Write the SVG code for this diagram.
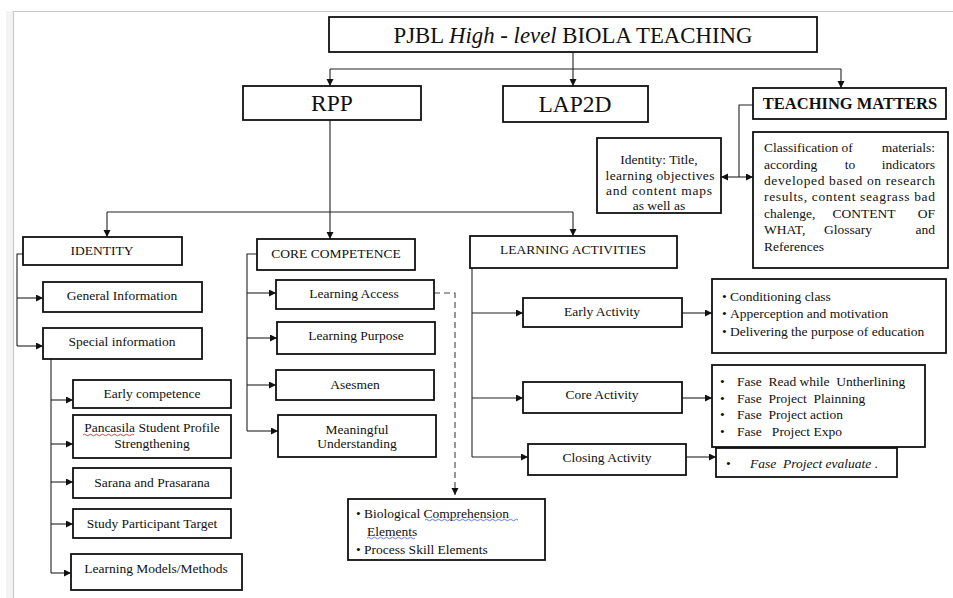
<svg xmlns="http://www.w3.org/2000/svg" width="953" height="598" viewBox="0 0 953 598">
<style>
  .box { fill: #fff; stroke: #111; stroke-width: 1.8; }
  .t { font-family: "Liberation Serif", "Times New Roman", serif; font-size: 13.5px; fill: #111; }
  .c { text-anchor: middle; }
  .e { text-anchor: end; }
  .big { font-size: 23.5px; }
  .ttl { font-size: 22.8px; }
  .bold { font-weight: bold; font-size: 16.5px; }
  .pre { white-space: pre; }
  .con path { fill: none; stroke: #222; stroke-width: 1.1; }
  .con path.arr { marker-end: url(#ah); }
  .con path.dash { stroke-dasharray: 6 4; stroke: #444; }
  .sq { fill: none; stroke-width: 0.9; }
</style>
<defs>
  <marker id="ah" markerUnits="userSpaceOnUse" markerWidth="8" markerHeight="8" refX="7" refY="3.5" orient="auto">
    <path d="M0,0 L7,3.5 L0,7 z" fill="#111"/>
  </marker>
</defs>
<rect x="0" y="0" width="953" height="598" fill="#fff"/>
<rect x="6" y="11" width="7" height="587" fill="#f4f4f4"/>
<path d="M13,11.5 H953 M13.5,11 V598" stroke="#c8c8c8" stroke-width="1.2" fill="none"/>

<g class="con" id="connectors">
  <path class="arr" d="M573,52 V86"/>
  <path d="M330,69 H841"/>
  <path class="arr" d="M330,69 V86"/>
  <path class="arr" d="M841,69 V88"/>
  <path d="M753,105 H739 V177"/>
  <path class="arr" d="M739,177 H721"/>
  <path class="arr" d="M739,177 H753"/>
  <path d="M330,120 V212"/>
  <path d="M107,212 H573"/>
  <path class="arr" d="M107,212 V237"/>
  <path class="arr" d="M330,212 V239"/>
  <path class="arr" d="M573,212 V236"/>
  <path d="M23,254 H17 V346"/>
  <path class="arr" d="M17,298 H43"/>
  <path class="arr" d="M17,346 H43"/>
  <path d="M51,359 V573"/>
  <path class="arr" d="M51,400 H73"/>
  <path class="arr" d="M51,444 H73"/>
  <path class="arr" d="M51,482 H73"/>
  <path class="arr" d="M51,524 H73"/>
  <path class="arr" d="M51,573 H71"/>
  <path d="M257,254 H247 V431"/>
  <path class="arr" d="M247,293 H276"/>
  <path class="arr" d="M247,338 H277"/>
  <path class="arr" d="M247,385 H276"/>
  <path class="arr" d="M247,431 H278"/>
  <path class="arr dash" d="M434,293 H455 V495"/>
  <path d="M472,268 V457"/>
  <path class="arr" d="M472,313 H523"/>
  <path class="arr" d="M472,398 H523"/>
  <path class="arr" d="M472,457 H528"/>
  <path class="arr" d="M682,313 H712"/>
  <path class="arr" d="M682,398 H712"/>
  <path class="arr" d="M686,457 H716"/>
</g>

<g id="title">
  <rect class="box" x="329" y="17" width="488" height="35"/>
  <text class="t ttl c" x="573" y="43">PJBL <tspan font-style="italic">High - level</tspan> BIOLA TEACHING</text>
</g>
<g id="rpp">
  <rect class="box" x="243" y="86" width="178" height="34"/>
  <text class="t big c" x="332" y="111">RPP</text>
</g>
<g id="lap2d">
  <rect class="box" x="503" y="86" width="145" height="36"/>
  <text class="t big c" x="575" y="112">LAP2D</text>
</g>
<g id="teaching-matters">
  <rect class="box" x="753" y="88" width="193" height="31"/>
  <text class="t bold c" x="850" y="109">TEACHING MATTERS</text>
</g>
<g id="identity-title">
  <rect class="box" x="597" y="138" width="124" height="75"/>
  <text class="t c" x="659" y="164">Identity: Title,</text>
  <text class="t c" x="660" y="180" textLength="109" lengthAdjust="spacing">learning objectives</text>
  <text class="t c" x="659" y="195" textLength="106" lengthAdjust="spacing">and content maps</text>
  <text class="t c" x="659" y="210">as well as</text>
</g>
<g id="classification">
  <rect class="box" x="753" y="132" width="195" height="136"/>
  <text class="t" x="764" y="152">Classification</text>
  <text class="t c" x="847" y="152">of</text>
  <text class="t e" x="935" y="152">materials:</text>
  <text class="t" x="764" y="169">according</text>
  <text class="t c" x="850" y="169">to</text>
  <text class="t e" x="935" y="169">indicators</text>
  <text class="t" x="764" y="185" textLength="171" lengthAdjust="spacing">developed based on research</text>
  <text class="t" x="764" y="201" textLength="171" lengthAdjust="spacing">results, content seagrass bad</text>
  <text class="t" x="764" y="218">chalenge,</text>
  <text class="t c" x="864" y="218">CONTENT</text>
  <text class="t e" x="935" y="218">OF</text>
  <text class="t" x="764" y="234">WHAT,</text>
  <text class="t c" x="848" y="234">Glossary</text>
  <text class="t e" x="935" y="234">and</text>
  <text class="t" x="764" y="251">References</text>
</g>

<g id="identity">
  <rect class="box" x="23" y="237" width="159" height="28"/>
  <text class="t c" x="102" y="255">IDENTITY</text>
</g>
<g id="general-information">
  <rect class="box" x="43" y="282" width="159" height="30"/>
  <text class="t c" x="122" y="300">General Information</text>
</g>
<g id="special-information">
  <rect class="box" x="43" y="328" width="159" height="31"/>
  <text class="t c" x="122" y="346">Special information</text>
</g>
<g id="early-competence">
  <rect class="box" x="73" y="380" width="158" height="28"/>
  <text class="t c" x="152" y="398">Early competence</text>
</g>
<g id="pancasila">
  <rect class="box" x="73" y="415" width="158" height="43"/>
  <text class="t c" x="152" y="432">Pancasila Student Profile</text>
  <text class="t c" x="152" y="448">Strengthening</text>
  <path class="sq" stroke="#d33" d="M83,435 q1.5,-1.5 3,0 t3,0 t3,0 t3,0 t3,0 t3,0 t3,0 t3,0 t3,0 t3,0 t3,0 t3,0 t3,0 t3,0 t3,0 t3,0 t3,0"/>
</g>
<g id="sarana">
  <rect class="box" x="73" y="468" width="158" height="30"/>
  <text class="t c" x="152" y="487">Sarana and Prasarana</text>
</g>
<g id="study-participant">
  <rect class="box" x="73" y="509" width="158" height="29"/>
  <text class="t c" x="152" y="528">Study Participant Target</text>
</g>
<g id="learning-models">
  <rect class="box" x="71" y="554" width="171" height="36"/>
  <text class="t c" x="156" y="573">Learning Models/Methods</text>
</g>

<g id="core-competence">
  <rect class="box" x="257" y="239" width="158" height="31"/>
  <text class="t c" x="336" y="258">CORE COMPETENCE</text>
</g>
<g id="learning-access">
  <rect class="box" x="276" y="280" width="158" height="29"/>
  <text class="t c" x="354" y="298">Learning Access</text>
</g>
<g id="learning-purpose">
  <rect class="box" x="277" y="322" width="158" height="32"/>
  <text class="t c" x="356" y="340">Learning Purpose</text>
</g>
<g id="asesmen">
  <rect class="box" x="276" y="370" width="158" height="30"/>
  <text class="t c" x="355" y="389">Asesmen</text>
</g>
<g id="meaningful">
  <rect class="box" x="278" y="415" width="158" height="42"/>
  <text class="t c" x="357" y="434">Meaningful</text>
  <text class="t c" x="357" y="448">Understanding</text>
</g>
<g id="biological">
  <rect class="box" x="348" y="499" width="197" height="61"/>
  <text class="t" x="356" y="518">•</text>
  <text class="t" x="364" y="518">Biological Comprehension</text>
  <text class="t" x="367" y="536">Elements</text>
  <text class="t" x="356" y="554">•</text>
  <text class="t" x="364" y="554">Process Skill Elements</text>
  <path class="sq" stroke="#5570c8" d="M425,520 q1.5,-1.5 3,0 t3,0 t3,0 t3,0 t3,0 t3,0 t3,0 t3,0 t3,0 t3,0 t3,0 t3,0 t3,0 t3,0 t3,0 t3,0 t3,0 t3,0 t3,0 t3,0 t3,0 t3,0 t3,0 t3,0 t3,0 t3,0 t3,0 t3,0 t3,0 t3,0 t3,0"/>
  <path class="sq" stroke="#5570c8" d="M367,538 q1.5,-1.5 3,0 t3,0 t3,0 t3,0 t3,0 t3,0 t3,0 t3,0 t3,0 t3,0 t3,0 t3,0 t3,0 t3,0 t3,0 t3,0"/>
</g>

<g id="learning-activities">
  <rect class="box" x="470" y="236" width="207" height="32"/>
  <text class="t c" x="573" y="254">LEARNING ACTIVITIES</text>
</g>
<g id="early-activity">
  <rect class="box" x="523" y="298" width="159" height="29"/>
  <text class="t c" x="602" y="316">Early Activity</text>
</g>
<g id="core-activity">
  <rect class="box" x="523" y="382" width="159" height="31"/>
  <text class="t c" x="602" y="399">Core Activity</text>
</g>
<g id="closing-activity">
  <rect class="box" x="528" y="444" width="158" height="31"/>
  <text class="t c" x="607" y="462">Closing Activity</text>
</g>
<g id="early-list">
  <rect class="box" x="712" y="279" width="234" height="74"/>
  <text class="t" x="722" y="301">•</text>
  <text class="t" x="730" y="301">Conditioning class</text>
  <text class="t" x="722" y="318">•</text>
  <text class="t" x="730" y="318">Apperception and motivation</text>
  <text class="t" x="722" y="336">•</text>
  <text class="t" x="730" y="336">Delivering the purpose of education</text>
</g>
<g id="core-list">
  <rect class="box" x="712" y="365" width="213" height="82"/>
  <text class="t" x="720" y="386">•</text>
  <text class="t pre" x="737" y="386">Fase  Read while  Untherlining</text>
  <text class="t" x="720" y="403">•</text>
  <text class="t pre" x="737" y="403">Fase  Project  Plainning</text>
  <text class="t" x="720" y="419">•</text>
  <text class="t pre" x="737" y="419">Fase  Project action</text>
  <text class="t" x="720" y="436">•</text>
  <text class="t pre" x="737" y="436">Fase   Project Expo</text>
</g>
<g id="closing-list">
  <rect class="box" x="716" y="448" width="181" height="29"/>
  <text class="t" x="726" y="468">•</text>
  <text class="t pre" x="750" y="468" font-style="italic">Fase  Project evaluate .</text>
</g>
</svg>
